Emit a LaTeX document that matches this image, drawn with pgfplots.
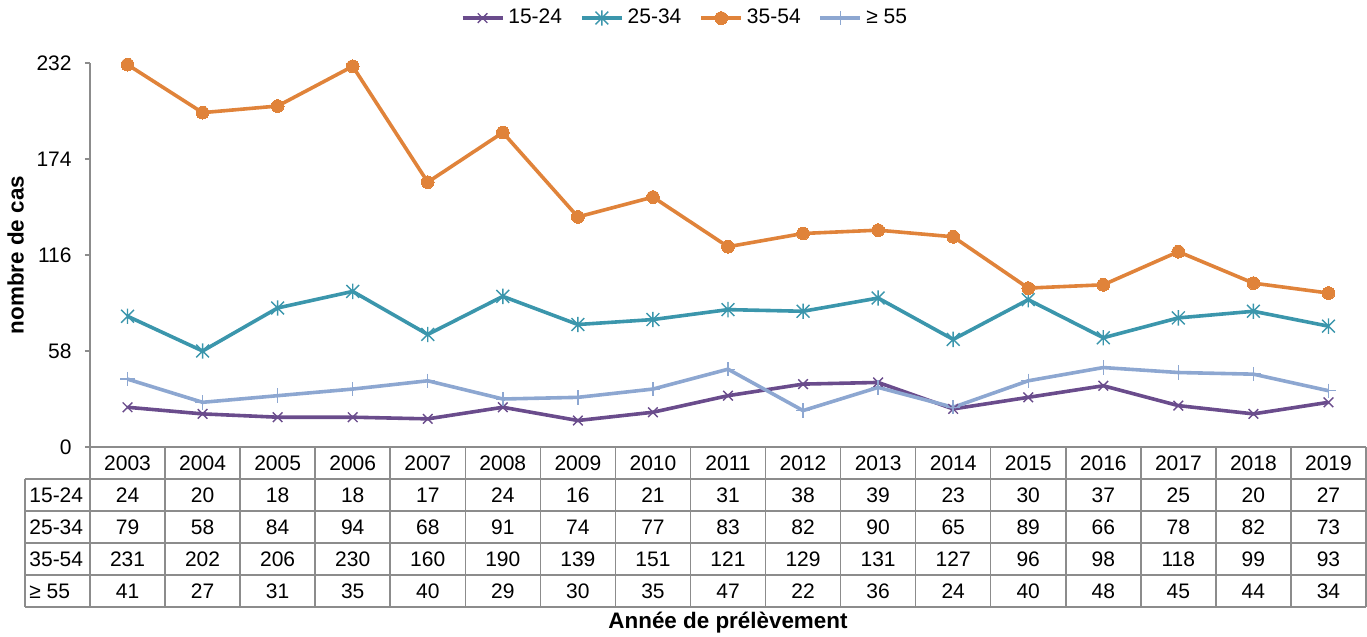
\documentclass[border=0pt]{standalone}
\usepackage{pgfplots}
\usepackage{pgfplotstable}
\pgfplotsset{compat=1.18}
\usepackage{fontspec}
\setmainfont{Liberation Sans}

\definecolor{cPurple}{HTML}{6A4C8C}
\definecolor{cTeal}{HTML}{3B96AC}
\definecolor{cOrange}{HTML}{E0833A}
\definecolor{cLight}{HTML}{8DA7D1}
\definecolor{cGrid}{HTML}{8C8C8C}

% asterisk: diagonal cross plus a vertical bar
\pgfdeclareplotmark{xstar}{%
  \pgfpathmoveto{\pgfqpoint{-\pgfplotmarksize}{-\pgfplotmarksize}}%
  \pgfpathlineto{\pgfqpoint{\pgfplotmarksize}{\pgfplotmarksize}}%
  \pgfpathmoveto{\pgfqpoint{-\pgfplotmarksize}{\pgfplotmarksize}}%
  \pgfpathlineto{\pgfqpoint{\pgfplotmarksize}{-\pgfplotmarksize}}%
  \pgfpathmoveto{\pgfqpoint{0pt}{-1.2\pgfplotmarksize}}%
  \pgfpathlineto{\pgfqpoint{0pt}{1.2\pgfplotmarksize}}%
  \pgfusepathqstroke}

\pgfplotstableread{
idx year a b c d
0 2003 24 79 231 41
1 2004 20 58 202 27
2 2005 18 84 206 31
3 2006 18 94 230 35
4 2007 17 68 160 40
5 2008 24 91 190 29
6 2009 16 74 139 30
7 2010 21 77 151 35
8 2011 31 83 121 47
9 2012 38 82 129 22
10 2013 39 90 131 36
11 2014 23 65 127 24
12 2015 30 89 96 40
13 2016 37 66 98 48
14 2017 25 78 118 45
15 2018 20 82 99 44
16 2019 27 73 93 34
}\data

\begin{document}
\fontsize{10.5pt}{12.6pt}\selectfont
\begin{tikzpicture}
\path[use as bounding box] (-45pt,-95pt) rectangle (638.5pt,223.5pt);
\begin{axis}[
  at={(0pt,0pt)}, anchor=south west,
  scale only axis,
  width=638pt, height=192pt,
  xmin=-0.5, xmax=16.5,
  ymin=0, ymax=232,
  axis x line=bottom, axis y line=left,
  axis line style={-, draw=cGrid, line width=0.75pt},
  xtick=\empty,
  ytick={0,58,116,174,232},
  tick align=outside,
  major tick length=2.5pt,
  tick style={draw=cGrid, line width=0.75pt},
  yticklabel style={inner sep=0pt, xshift=-6.5pt},
  /pgf/number format/assume math mode=true,
  clip=false,
  legend columns=4,
  legend style={draw=none, fill=none, at={(0.467,1.117)}, anchor=center,
    font=\fontsize{10.5pt}{12.6pt}\selectfont,
    /tikz/every even column/.append style={column sep=7pt},
    inner sep=0pt},
  legend cell align=left,
  legend image code/.code={%
    \draw[mark repeat=2,mark phase=2] plot coordinates {(0pt,0pt) (10pt,0pt) (20pt,0pt)};},
  every axis plot/.append style={line width=1.8pt},
]
\addplot[cPurple, mark=x, mark size=3.4pt, mark options={line width=0.7pt}] table[x=idx, y=a] {\data};
\addlegendentry{15-24}
\addplot[cTeal, mark=xstar, mark size=3.2pt, mark options={line width=0.7pt}] table[x=idx, y=b] {\data};
\addlegendentry{25-34}
\addplot[cOrange, mark=*, mark size=3.2pt, mark options={line width=0pt}] table[x=idx, y=c] {\data};
\addlegendentry{35-54}
\addplot[cLight, mark=+, mark size=3.6pt, mark options={line width=0.7pt}] table[x=idx, y=d] {\data};
\addlegendentry{≥ 55}
\end{axis}

% data table below the plot
\pgfmathsetmacro{\cw}{638/17}
\begin{scope}[draw=cGrid, line width=0.75pt]
  \foreach \k in {0,...,17} {
    \draw ({\k*\cw pt},0pt) -- ({\k*\cw pt},-80pt);
  }
  \foreach \r in {1,...,5} {
    \draw (-32.5pt,{-16*\r pt}) -- (638pt,{-16*\r pt});
  }
  \draw (-32.5pt,-16pt) -- (-32.5pt,-80pt);
\end{scope}
\foreach \i in {0,...,16} {
  \pgfmathsetmacro{\xc}{(\i+0.5)*\cw}
  \pgfplotstablegetelem{\i}{year}\of\data
  \node at (\xc pt,-8pt) {\pgfplotsretval};
  \pgfplotstablegetelem{\i}{a}\of\data
  \node at (\xc pt,-24pt) {\pgfplotsretval};
  \pgfplotstablegetelem{\i}{b}\of\data
  \node at (\xc pt,-40pt) {\pgfplotsretval};
  \pgfplotstablegetelem{\i}{c}\of\data
  \node at (\xc pt,-56pt) {\pgfplotsretval};
  \pgfplotstablegetelem{\i}{d}\of\data
  \node at (\xc pt,-72pt) {\pgfplotsretval};
}
\node[anchor=west, inner sep=0pt] at (-30.5pt,-24pt) {15-24};
\node[anchor=west, inner sep=0pt] at (-30.5pt,-40pt) {25-34};
\node[anchor=west, inner sep=0pt] at (-30.5pt,-56pt) {35-54};
\node[anchor=west, inner sep=0pt] at (-30.5pt,-72pt) {≥ 55};

\node[font=\fontsize{11.2pt}{13pt}\selectfont\bfseries] at (319pt,-88pt) {Année de prélèvement};
\node[font=\fontsize{11.2pt}{13pt}\selectfont\bfseries, rotate=90] at (-37.2pt,96pt) {nombre de cas};
\end{tikzpicture}
\end{document}
